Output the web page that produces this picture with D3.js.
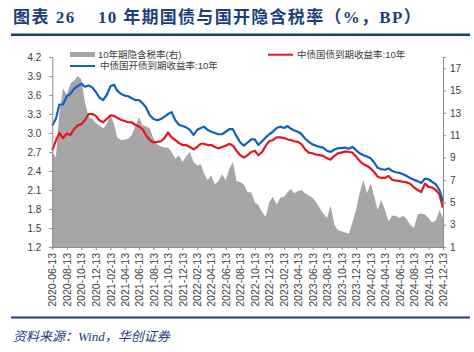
<!DOCTYPE html>
<html>
<head>
<meta charset="utf-8">
<script src="https://cdn.jsdelivr.net/npm/d3@7"></script>
<style>
  body { margin: 0; background: #fff; }
  svg { display: block; }
</style>
</head>
<body>
<div id="chart"></div>
<script>
// tick labels on the x axis (every two months)
const tickLabels = [
  "2020-06-13","2020-08-13","2020-10-13","2020-12-13","2021-02-13","2021-04-13","2021-06-13",
  "2021-08-13","2021-10-13","2021-12-13","2022-02-13","2022-04-13","2022-06-13","2022-08-13",
  "2022-10-13","2022-12-13","2023-02-13","2023-04-13","2023-06-13","2023-08-13","2023-10-13",
  "2023-12-13","2024-02-13","2024-04-13","2024-06-13","2024-08-13","2024-10-13","2024-12-13"
];

// 中债国开债到期收益率:10年 (%), half-monthly readings
const cdbYield = [
  3.12,3.22,3.45,3.45,3.58,3.62,3.70,3.74,3.78,3.73,3.75,3.72,3.65,3.56,3.52,3.60,
  3.74,3.76,3.67,3.62,3.59,3.58,3.55,3.52,3.52,3.47,3.40,3.28,3.22,3.20,3.22,3.26,
  3.30,3.33,3.20,3.13,3.11,3.09,3.05,2.97,3.05,3.08,3.10,3.05,3.02,3.00,2.98,2.98,
  3.02,3.06,3.06,2.95,2.85,2.80,2.85,2.90,2.90,2.81,2.87,2.93,2.98,3.02,3.08,3.10,
  3.08,3.11,3.07,3.04,3.02,2.98,2.91,2.86,2.82,2.80,2.78,2.77,2.72,2.70,2.74,2.76,
  2.76,2.77,2.75,2.78,2.73,2.68,2.65,2.63,2.60,2.53,2.45,2.43,2.42,2.44,2.40,2.38,
  2.37,2.35,2.32,2.29,2.26,2.24,2.21,2.28,2.27,2.23,2.19,2.10,1.92
];

// 中债国债到期收益率:10年 (%)
const cgbYield = [
  2.73,2.88,3.00,2.92,2.99,2.97,3.06,3.12,3.14,3.20,3.30,3.30,3.27,3.20,3.17,3.22,
  3.28,3.27,3.24,3.21,3.19,3.17,3.17,3.13,3.10,3.06,2.96,2.89,2.85,2.86,2.87,2.92,
  3.01,2.93,2.89,2.84,2.81,2.81,2.78,2.74,2.78,2.83,2.83,2.81,2.81,2.78,2.76,2.78,
  2.80,2.83,2.80,2.72,2.65,2.61,2.65,2.70,2.72,2.65,2.70,2.80,2.87,2.89,2.93,2.93,
  2.92,2.90,2.89,2.87,2.86,2.82,2.74,2.69,2.68,2.66,2.65,2.64,2.60,2.58,2.64,2.68,
  2.69,2.71,2.70,2.69,2.63,2.56,2.51,2.48,2.44,2.38,2.31,2.29,2.29,2.32,2.26,2.25,
  2.24,2.23,2.22,2.20,2.14,2.10,2.07,2.20,2.15,2.14,2.10,2.03,1.82
];

// 10年期隐含税率 (%, right axis)
const taxRate = [
  9.5,9.0,13.0,15.2,14.6,15.6,15.9,16.3,16.0,14.0,12.6,12.5,12.1,11.9,11.6,12.0,
  12.8,12.0,10.8,10.6,10.6,10.7,11.0,11.8,12.6,11.9,11.8,11.6,10.7,10.2,10.0,9.9,
  9.9,9.5,8.9,9.2,8.6,9.1,9.5,8.6,8.3,8.4,7.6,7.0,7.4,6.6,6.9,7.5,
  7.0,8.0,8.6,6.9,6.8,6.6,5.9,5.9,5.0,4.75,4.1,3.7,5.0,5.5,4.8,5.4,
  5.5,5.9,6.2,5.8,6.0,6.1,5.8,5.6,5.4,5.0,4.5,4.0,3.6,4.7,3.0,2.5,
  2.4,2.3,2.2,3.2,4.3,5.8,7.0,5.8,6.7,5.5,4.3,5.2,4.3,3.3,3.8,3.8,
  3.6,3.8,3.5,3.0,2.7,3.9,4.0,3.9,3.6,3.2,3.4,4.3,3.6
];

const leftTicks = [1.2, 1.5, 1.8, 2.1, 2.4, 2.7, 3.0, 3.3, 3.6, 3.9, 4.2];
const rightTicks = [1, 3, 5, 7, 9, 11, 13, 15, 17];

// half-monthly dates: 13th and 28th of each month
const parse = d3.timeParse("%Y-%m-%d");
const dates = [];
for (let m = new Date(2020, 5, 1); m <= new Date(2024, 11, 1); m = d3.timeMonth.offset(m, 1)) {
  dates.push(new Date(m.getFullYear(), m.getMonth(), 13));
  if (dates.length < cdbYield.length) dates.push(new Date(m.getFullYear(), m.getMonth(), 28));
}
const rows = dates.slice(0, cdbYield.length).map((d, i) => ({
  date: d, cdb: cdbYield[i], cgb: cgbYield[i], tax: taxRate[i]
}));

const W = 474, H = 352;
const plot = { left: 52.3, right: 443, top: 57, bottom: 247 };
const navy = "#1b3f7c";
const axisColor = "#8c8c8c";
const textColor = "#404040";
const legendFont = "'Liberation Sans', 'Noto Sans CJK SC', sans-serif";

const svg = d3.select("#chart").append("svg")
  .attr("width", W).attr("height", H);

// title
const titleFont = "'Liberation Serif', 'Noto Sans CJK SC', serif";
svg.append("text")
  .attr("x", 13).attr("y", 23)
  .attr("font-family", titleFont).attr("font-weight", "bold")
  .attr("font-size", 17).attr("letter-spacing", 1.5)
  .attr("fill", navy)
  .text("图表 26");
svg.append("text")
  .attr("x", 98).attr("y", 23)
  .attr("font-family", titleFont).attr("font-weight", "bold")
  .attr("font-size", 17).attr("letter-spacing", 1.3)
  .attr("fill", navy)
  .text("10 年期国债与国开隐含税率（%，BP）");
svg.append("rect")
  .attr("x", 11).attr("y", 33.5).attr("width", 459).attr("height", 2.5)
  .attr("fill", navy);

// footer
svg.append("rect")
  .attr("x", 11).attr("y", 316.5).attr("width", 459).attr("height", 2)
  .attr("fill", navy);
svg.append("text")
  .attr("x", 13).attr("y", 341)
  .attr("font-family", "'Liberation Serif', 'Noto Sans CJK SC', serif")
  .attr("font-style", "italic")
  .attr("font-size", 13)
  .attr("fill", navy)
  .text("资料来源：Wind，华创证券");

// scales
const x = d3.scaleTime()
  .domain([parse(tickLabels[0]), parse(tickLabels[tickLabels.length - 1])])
  .range([plot.left, plot.right]);
const yL = d3.scaleLinear().domain([1.2, 4.2]).range([plot.bottom, plot.top]);
const yR = d3.scaleLinear().domain([1, 18]).range([plot.bottom, plot.top]);

// area (right axis)
svg.append("path")
  .datum(rows)
  .attr("fill", "#a6a6a6")
  .attr("d", d3.area()
    .x(d => x(d.date))
    .y0(yR(1))
    .y1(d => yR(d.tax)));

// lines
const line = key => d3.line().x(d => x(d.date)).y(d => yL(d[key]));
svg.append("path").datum(rows)
  .attr("fill", "none").attr("stroke", "#e8141c").attr("stroke-width", 2.2)
  .attr("stroke-linejoin", "round")
  .attr("d", line("cgb"));
svg.append("path").datum(rows)
  .attr("fill", "none").attr("stroke", "#1060c0").attr("stroke-width", 2.2)
  .attr("stroke-linejoin", "round")
  .attr("d", line("cdb"));

// axes
const styleAxis = g => {
  g.select(".domain").attr("stroke", axisColor);
  g.selectAll(".tick line").attr("stroke", axisColor);
  g.selectAll(".tick text").attr("fill", textColor)
    .attr("font-family", "'Liberation Sans', Arial, sans-serif").attr("font-size", 10);
};

svg.append("g")
  .attr("transform", `translate(${plot.left},0)`)
  .call(d3.axisLeft(yL).tickValues(leftTicks).tickFormat(d3.format(".1f")).tickSize(3).tickPadding(8))
  .call(styleAxis);

svg.append("g")
  .attr("transform", `translate(${plot.right},0)`)
  .call(d3.axisRight(yR).tickValues(rightTicks).tickSize(3).tickPadding(4))
  .call(styleAxis);

const xAxis = svg.append("g")
  .attr("transform", `translate(0,${plot.bottom})`)
  .call(d3.axisBottom(x)
    .tickValues(tickLabels.map(parse))
    .tickFormat(d3.timeFormat("%Y-%m-%d"))
    .tickSize(3).tickSizeOuter(0))
  .call(styleAxis);
xAxis.selectAll(".tick text")
  .attr("font-size", 10.5)
  .attr("transform", "rotate(-90)")
  .attr("text-anchor", "end")
  .attr("x", -6).attr("y", 0).attr("dy", "0.35em");

// legend
const legend = svg.append("g")
  .attr("font-family", legendFont).attr("font-size", 9.5).attr("fill", textColor);
legend.append("rect")
  .attr("x", 70).attr("y", 52).attr("width", 25).attr("height", 5)
  .attr("fill", "#a6a6a6");
legend.append("text").attr("x", 98).attr("y", 54.5).attr("dy", "0.35em")
  .text("10年期隐含税率(右)");
legend.append("line")
  .attr("x1", 70).attr("x2", 95).attr("y1", 66).attr("y2", 66)
  .attr("stroke", "#1060c0").attr("stroke-width", 2);
legend.append("text").attr("x", 100).attr("y", 66).attr("dy", "0.35em")
  .text("中债国开债到期收益率:10年");
legend.append("line")
  .attr("x1", 268).attr("x2", 293).attr("y1", 54.7).attr("y2", 54.7)
  .attr("stroke", "#e8141c").attr("stroke-width", 2);
legend.append("text").attr("x", 297).attr("y", 54.7).attr("dy", "0.35em")
  .text("中债国债到期收益率:10年");
</script>
</body>
</html>
